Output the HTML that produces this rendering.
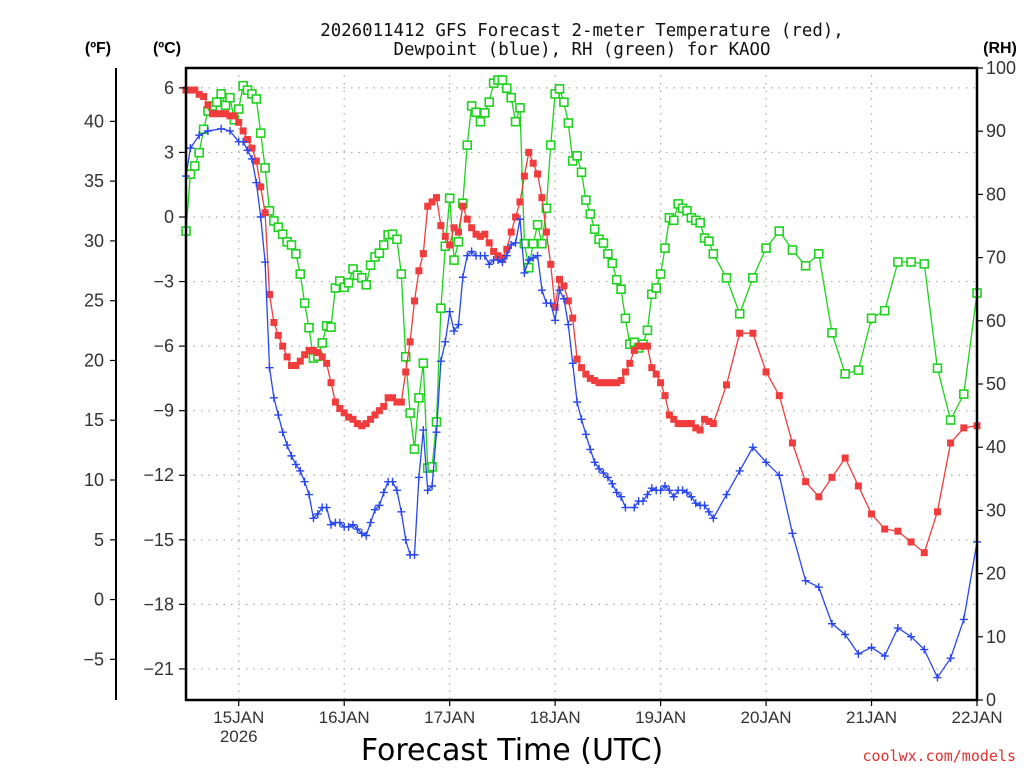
<!DOCTYPE html>
<html><head><meta charset="utf-8"><style>
html,body{margin:0;padding:0;background:#fff;}
svg{display:block;}
</style></head><body>
<svg id="chart" width="1024" height="768" xmlns="http://www.w3.org/2000/svg" font-family="'Liberation Sans', sans-serif">
<text x="582" y="36" text-anchor="middle" font-family="'DejaVu Sans Mono', 'Liberation Mono', monospace" font-size="17.4" fill="#111">2026011412 GFS Forecast 2-meter Temperature (red),</text>
<text x="582" y="55" text-anchor="middle" font-family="'DejaVu Sans Mono', 'Liberation Mono', monospace" font-size="17.4" fill="#111">Dewpoint (blue), RH (green) for KAOO</text>
<text x="98" y="53" text-anchor="middle" font-weight="bold" font-size="16" fill="#000">(ºF)</text>
<text x="167" y="53" text-anchor="middle" font-weight="bold" font-size="16" fill="#000">(ºC)</text>
<text x="1000" y="53" text-anchor="middle" font-weight="bold" font-size="16" fill="#000">(RH)</text>
<text x="512" y="760" text-anchor="middle" font-family="'DejaVu Sans', sans-serif" font-size="30" fill="#000">Forecast Time (UTC)</text>
<text x="1016" y="761" text-anchor="end" font-family="'DejaVu Sans Mono', monospace" font-size="15" fill="#e03030">coolwx.com/models</text>
<g id="grid"></g><g id="series"></g><g id="axes"></g>
</svg>
<script>
const tempHours=[0,1,2,3,4,5,6,7,8,9,10,11,12,13,14,15,16,17,18,19,20,21,22,23,24,25,26,27,28,29,30,31,32,33,34,35,36,37,38,39,40,41,42,43,44,45,46,47,48,49,50,51,52,53,54,55,56,57,58,59,60,61,62,63,64,65,66,67,68,69,70,71,72,73,74,75,76,77,78,79,80,81,82,83,84,85,86,87,88,89,90,91,92,93,94,95,96,97,98,99,100,101,102,103,104,105,106,107,108,109,110,111,112,113,114,115,116,117,118,119,120,123,126,129,132,135,138,141,144,147,150,153,156,159,162,165,168,171,174,177,180];
const tempC=[5.9,5.9,5.9,5.7,5.6,5.2,4.8,4.8,4.8,4.8,4.7,4.7,4.4,4.0,3.6,3.2,2.6,1.4,0.2,-3.6,-4.9,-5.5,-6.0,-6.5,-6.9,-6.9,-6.7,-6.4,-6.2,-6.2,-6.3,-6.5,-6.8,-7.7,-8.6,-8.9,-9.1,-9.3,-9.4,-9.6,-9.7,-9.6,-9.4,-9.2,-9.0,-8.8,-8.4,-8.4,-8.6,-8.6,-7.2,-5.8,-3.9,-2.5,-1.7,0.5,0.7,0.9,-0.4,-0.9,-1.3,-0.5,-0.7,0.5,-0.1,-0.5,-0.8,-0.9,-0.8,-1.2,-1.6,-1.8,-1.9,-1.5,-0.7,0.0,0.7,1.9,3.0,2.5,2.0,0.9,-0.7,-2.2,-4.2,-2.9,-3.2,-3.9,-4.7,-6.6,-7.0,-7.3,-7.5,-7.6,-7.7,-7.7,-7.7,-7.7,-7.7,-7.6,-7.2,-6.8,-6.2,-6.0,-6.0,-6.0,-7.0,-7.3,-7.7,-8.3,-9.2,-9.4,-9.6,-9.6,-9.6,-9.6,-9.8,-9.9,-9.4,-9.5,-9.6,-7.8,-5.4,-5.4,-7.2,-8.3,-10.5,-12.3,-13.0,-12.1,-11.2,-12.5,-13.8,-14.5,-14.6,-15.1,-15.6,-13.7,-10.5,-9.8,-9.7];
const dewHours=[0,1,3,5,8,10,12,13,14,15,16,17,18,19,20,21,22,23,24,25,26,27,28,29,30,31,32,33,34,35,36,37,38,39,40,41,42,43,44,45,46,47,48,49,50,51,52,53,54,55,56,57,58,59,60,61,62,63,64,65,66,67,68,69,70,71,72,73,74,75,76,77,78,79,80,81,82,83,84,85,86,87,88,89,90,91,92,93,94,95,96,97,98,99,100,102,103,104,105,106,107,108,109,110,111,112,113,114,115,116,117,118,119,120,123,126,129,132,135,138,141,144,147,150,153,156,159,162,165,168,171,174,177,180];
const dewC=[1.9,3.2,3.8,4.0,4.1,4.0,3.5,3.5,3.1,2.7,1.6,0.0,-2.1,-7.0,-8.4,-9.2,-10.0,-10.6,-11.1,-11.5,-11.8,-12.3,-12.9,-14.0,-13.8,-13.5,-13.5,-14.3,-14.2,-14.2,-14.4,-14.4,-14.3,-14.5,-14.7,-14.8,-14.2,-13.6,-13.4,-12.8,-12.3,-12.3,-12.7,-13.7,-15.0,-15.7,-15.7,-12.1,-9.9,-12.7,-12.5,-10.0,-6.7,-5.8,-4.4,-5.3,-5.0,-2.8,-1.8,-1.6,-1.8,-1.8,-1.8,-2.2,-2.0,-2.0,-2.1,-1.8,-1.3,-1.2,-0.1,-2.6,-2.0,-1.9,-1.8,-3.4,-4.0,-4.0,-4.8,-3.4,-3.8,-5.0,-6.8,-8.6,-9.4,-10.1,-10.8,-11.4,-11.7,-11.9,-12.1,-12.4,-12.8,-13.0,-13.5,-13.5,-13.2,-13.2,-12.9,-12.6,-12.7,-12.7,-12.5,-12.7,-13.0,-12.7,-12.7,-12.8,-13.0,-13.3,-13.4,-13.4,-13.7,-14.0,-12.9,-11.8,-10.7,-11.4,-12.0,-14.7,-16.9,-17.2,-18.9,-19.4,-20.3,-20.0,-20.4,-19.1,-19.5,-20.1,-21.4,-20.5,-18.7,-15.1];
const rhHours=[0,1,2,3,4,5,6,7,8,9,10,11,12,13,14,15,16,17,18,19,20,21,22,23,24,25,26,27,28,29,30,31,32,33,34,35,36,37,38,39,40,41,42,43,44,45,46,47,48,49,50,51,52,53,54,55,56,57,58,59,60,61,62,63,64,65,66,67,68,69,70,71,72,73,74,75,76,77,78,79,80,81,82,83,84,85,86,87,88,89,90,91,92,93,94,95,96,97,98,99,100,101,102,103,104,105,106,107,108,109,110,111,112,113,114,115,116,117,118,119,120,123,126,129,132,135,138,141,144,147,150,153,156,159,162,165,168,171,174,177,180];
const rhPct=[74.2,83.2,84.5,86.6,90.3,93.2,94.0,94.6,95.9,94.1,95.3,91.8,93.5,97.2,96.5,95.9,95.1,89.7,84.2,77.4,75.8,74.8,73.7,72.5,72.0,70.6,67.4,62.8,58.9,54.1,54.4,56.5,59.2,59.0,65.2,66.3,65.3,66.0,68.2,67.2,66.8,65.7,68.8,70.1,70.7,72.0,73.6,73.7,72.9,67.4,54.3,45.4,39.7,47.8,53.3,36.7,36.9,44.0,62.0,71.8,79.4,69.6,72.5,78.6,87.8,94.0,93.0,91.5,92.9,94.6,97.6,98.1,98.1,96.8,95.3,91.5,93.7,72.2,68.4,72.2,75.2,72.2,77.8,87.8,95.9,96.7,94.6,91.3,85.3,86.1,83.5,79.1,76.9,74.5,72.9,72.3,70.6,69.1,66.5,65.0,60.4,56.3,56.6,55.7,56.3,58.5,64.2,65.2,67.4,71.5,76.3,75.9,78.5,77.8,77.4,76.3,75.9,75.5,73.1,72.6,70.6,66.8,61.1,66.8,71.5,74.2,71.2,68.7,70.6,58.1,51.6,52.2,60.4,61.6,69.3,69.3,69.0,52.5,44.3,48.4,64.4];
const cTicks=[6,3,0,-3,-6,-9,-12,-15,-18,-21];
const fTicks=[40,35,30,25,20,15,10,5,0,-5];
const rhTicks=[100,90,80,70,60,50,40,30,20,10,0];
const dayLabels=["15JAN","16JAN","17JAN","18JAN","19JAN","20JAN","21JAN","22JAN"];
const dayHours=[12,36,60,84,108,132,156,180];

const L=186,R=977,T=68,B=700,NS="http://www.w3.org/2000/svg";
const xH=h=>L+(h/180)*(R-L);
const yC=c=>217-c*21.52;
const yF=f=>yC((f-32)*5/9);
const yRH=r=>B-(r/100)*(B-T);
function mk(tag,attrs,parent,txt){const e=document.createElementNS(NS,tag);for(const k in attrs)e.setAttribute(k,attrs[k]);if(txt!==undefined)e.textContent=txt;parent.appendChild(e);return e;}
const grid=document.getElementById('grid'),ser=document.getElementById('series'),ax=document.getElementById('axes');
const gs={stroke:'#aaa','stroke-width':1.2,'stroke-dasharray':'1.5,6'};
cTicks.forEach(c=>{const y=yC(c);
 const g=mk('line',Object.assign({x1:L,x2:R,y1:y,y2:y},gs),grid);
 
 
 const t=mk('line',{x1:L-7,x2:L,y1:y,y2:y,stroke:'#000','stroke-width':1.2},ax);
 
 
 const l=mk('text',{x:L-12,y:y+6,'text-anchor':'end','font-size':18,fill:'#333'},ax,c<0?'\u2212'+(-c):String(c));
 
 
});
dayHours.forEach((h,i)=>{const x=xH(h);
 if(h<180){const g=mk('line',Object.assign({x1:x,x2:x,y1:T,y2:B},gs),grid);
 
 }
 const t=mk('line',{x1:x,x2:x,y1:B,y2:B+6,stroke:'#000','stroke-width':1.2},ax);
 
 
 const l=mk('text',{x:x,y:B+23,'text-anchor':'middle','font-size':17,fill:'#333'},ax,dayLabels[i]);
 
 
});
const yr=mk('text',{x:xH(12),y:B+42,'text-anchor':'middle','font-size':17,fill:'#333'},ax,'2026');


fTicks.forEach(f=>{const y=yF(f);
 const t=mk('line',{x1:110,x2:116,y1:y,y2:y,stroke:'#000','stroke-width':1.2},ax);
 
 
 const l=mk('text',{x:104,y:y+6,'text-anchor':'end','font-size':18,fill:'#333'},ax,f<0?'\u2212'+(-f):String(f));
 
 
});
rhTicks.forEach(r=>{const y=yRH(r);
 const t=mk('line',{x1:R,x2:R+6,y1:y,y2:y,stroke:'#000','stroke-width':1.2},ax);
 
 
 const l=mk('text',{x:R+9,y:y+6,'font-size':18,fill:'#333'},ax,String(r));
 
 
});
const fl=mk('line',{x1:116,x2:116,y1:T,y2:B,stroke:'#000','stroke-width':2},ax);


const fr=mk('rect',{x:L,y:T,width:R-L,height:B-T,fill:'none',stroke:'#000','stroke-width':2.5},ax);



function drawSeries(hours,vals,yf,color,kind,name){
 const g=mk('g',{},ser);
 
 
 const pts=hours.map((h,i)=>xH(h).toFixed(1)+','+yf(vals[i]).toFixed(1)).join(' ');
 const pl=mk('polyline',{points:pts,fill:'none',stroke:color,'stroke-width':1.3},g);
 
 
 hours.forEach((h,i)=>{const x=xH(h),y=yf(vals[i]);let m;
  if(kind==='fill'){m=mk('rect',{x:x-3.5,y:y-3.5,width:7,height:7,fill:color},g);}
  else if(kind==='open'){m=mk('rect',{x:x-4,y:y-4,width:8,height:8,fill:'#fff',stroke:color,'stroke-width':1.6},g);}
  else{m=mk('path',{d:`M${x-4},${y}H${x+4}M${x},${y-4}V${y+4}`,stroke:color,'stroke-width':1.4},g);}
  
  
 });
}
drawSeries(rhHours,rhPct,yRH,'#1ed21e','open','rh');
drawSeries(tempHours,tempC,yC,'#f03c3c','fill','temperature');
drawSeries(dewHours,dewC,yC,'#2846f0','plus','dewpoint');
</script>
</body></html>
